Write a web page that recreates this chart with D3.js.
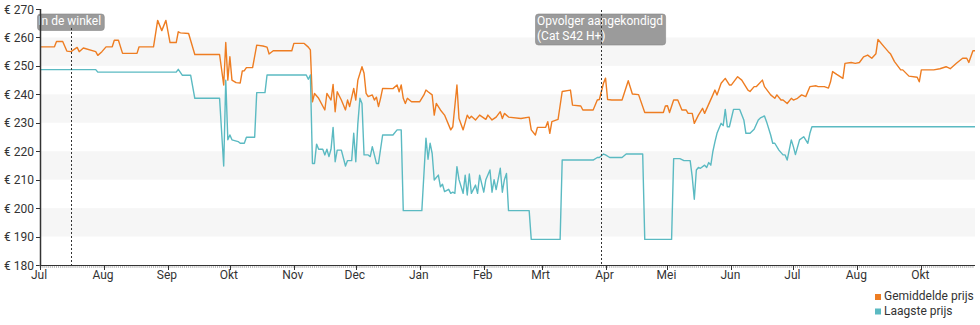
<!DOCTYPE html>
<html><head><meta charset="utf-8">
<script src="https://cdn.jsdelivr.net/npm/d3@7"></script>
<style>html,body{margin:0;padding:0;background:#fff}svg{display:block;font-family:Roboto,"Noto Sans",sans-serif}</style>
</head><body><svg id="c" width="980" height="325"></svg>
<script>
const yTicks = [180,190,200,210,220,230,240,250,260,270];
const bands = [[190,200],[210,220],[230,240],[250,260]];
const monthTicks = ["2020-07-01","2020-08-01","2020-09-01","2020-10-01","2020-11-01","2020-12-01","2021-01-01","2021-02-01","2021-03-01","2021-04-01","2021-05-01","2021-06-01","2021-07-01","2021-08-01","2021-09-01"];
const monthLabels = ["Jul","Aug","Sep","Okt","Nov","Dec","Jan","Feb","Mrt","Apr","Mei","Jun","Jul","Aug","Okt"];
const events = [["2020-07-16",["In de winkel"]],["2021-03-30",["Opvolger aangekondigd","(Cat S42 H+)"]]];
const seriesNames = ["Gemiddelde prijs","Laagste prijs"];
const avgPrice = [["2020-07-01",256.7],["2020-07-08",256.7],["2020-07-09",258.6],["2020-07-12",258.6],["2020-07-14",255.2],["2020-07-16",255],["2020-07-19",256.5],["2020-07-20",255],["2020-07-22",256.3],["2020-07-28",255],["2020-07-29",253.7],["2020-07-31",255],["2020-08-02",256.7],["2020-08-05",256.7],["2020-08-06",259],["2020-08-08",259],["2020-08-10",254.4],["2020-08-17",254.4],["2020-08-18",256.7],["2020-08-25",256.7],["2020-08-27",266],["2020-08-29",262.4],["2020-08-31",266],["2020-09-02",258.2],["2020-09-05",258.2],["2020-09-06",262],["2020-09-07",261.6],["2020-09-11",261.4],["2020-09-14",254],["2020-09-26",254],["2020-09-28",243.3],["2020-09-29",258.2],["2020-09-30",245],["2020-10-01",253.2],["2020-10-02",245],["2020-10-04",244.1],["2020-10-06",244],["2020-10-07",248.2],["2020-10-08",248.3],["2020-10-09",249.4],["2020-10-12",249.4],["2020-10-14",257.3],["2020-10-17",257],["2020-10-19",256.6],["2020-10-20",254.2],["2020-10-22",255.3],["2020-10-31",255.3],["2020-11-01",257.9],["2020-11-06",257.9],["2020-11-08",256.6],["2020-11-09",255.6],["2020-11-10",237.4],["2020-11-11",240.3],["2020-11-13",238.6],["2020-11-16",234.5],["2020-11-17",240.3],["2020-11-19",238],["2020-11-20",243.5],["2020-11-21",233.9],["2020-11-22",240.9],["2020-11-24",238],["2020-11-26",234.5],["2020-11-27",238],["2020-11-28",235.7],["2020-11-30",242.1],["2020-12-01",238],["2020-12-02",245],["2020-12-04",249.7],["2020-12-05",247.4],["2020-12-06",240.3],["2020-12-07",239.2],["2020-12-09",239.8],["2020-12-10",238],["2020-12-11",239],["2020-12-12",235.7],["2020-12-13",238.6],["2020-12-14",242.1],["2020-12-19",242],["2020-12-21",243.3],["2020-12-22",240.9],["2020-12-23",243.3],["2020-12-24",238.6],["2020-12-25",236.8],["2020-12-26",238.6],["2020-12-28",237.4],["2021-01-01",237.4],["2021-01-03",239.8],["2021-01-04",241.5],["2021-01-05",240.9],["2021-01-07",239.8],["2021-01-08",232.7],["2021-01-09",236.8],["2021-01-11",234.5],["2021-01-13",232.7],["2021-01-16",227.5],["2021-01-17",228.6],["2021-01-19",243.3],["2021-01-20",231.5],["2021-01-22",227.5],["2021-01-24",232.7],["2021-01-25",231.5],["2021-01-26",232.3],["2021-01-28",231],["2021-01-30",232.7],["2021-02-02",231.2],["2021-02-03",232.7],["2021-02-05",231],["2021-02-07",232],["2021-02-09",233.9],["2021-02-10",231.5],["2021-02-11",233.3],["2021-02-13",232],["2021-02-19",231.5],["2021-02-23",232],["2021-02-24",227.5],["2021-02-26",225.7],["2021-02-27",228.4],["2021-03-03",228.4],["2021-03-04",230.4],["2021-03-05",226.3],["2021-03-06",230.4],["2021-03-09",231.2],["2021-03-11",241],["2021-03-15",241.5],["2021-03-16",236.2],["2021-03-20",235.9],["2021-03-21",234.5],["2021-03-26",234.5],["2021-03-28",238],["2021-03-29",238.2],["2021-03-31",243.9],["2021-04-01",245.7],["2021-04-02",238.2],["2021-04-04",238],["2021-04-09",238],["2021-04-12",244.8],["2021-04-14",240.1],["2021-04-17",239.9],["2021-04-20",233.6],["2021-04-29",233.6],["2021-04-30",235.9],["2021-05-01",236],["2021-05-02",233.6],["2021-05-04",238],["2021-05-06",238],["2021-05-08",234.5],["2021-05-10",234.5],["2021-05-11",233.3],["2021-05-13",233.3],["2021-05-14",229.8],["2021-05-16",232.7],["2021-05-18",235.1],["2021-05-19",233.3],["2021-05-23",239.8],["2021-05-24",241.5],["2021-05-25",239.8],["2021-05-27",243.9],["2021-05-29",245.6],["2021-05-30",244.5],["2021-05-31",243.3],["2021-06-01",243.3],["2021-06-04",246.2],["2021-06-06",245],["2021-06-09",241.5],["2021-06-10",241],["2021-06-12",242.7],["2021-06-13",242.7],["2021-06-16",245],["2021-06-17",242.7],["2021-06-20",239.8],["2021-06-22",238.6],["2021-06-23",239.8],["2021-06-25",238],["2021-06-26",238],["2021-06-28",236.8],["2021-06-30",238.6],["2021-07-01",238],["2021-07-03",238.6],["2021-07-05",239.8],["2021-07-07",239.2],["2021-07-09",242.7],["2021-07-12",243],["2021-07-13",242.7],["2021-07-16",242.7],["2021-07-18",242.2],["2021-07-19",244.4],["2021-07-20",248],["2021-07-22",247],["2021-07-25",245.6],["2021-07-26",250.9],["2021-07-29",251.2],["2021-07-31",250.9],["2021-08-02",251.2],["2021-08-04",253.2],["2021-08-06",253.8],["2021-08-08",252.7],["2021-08-10",254.3],["2021-08-11",259.3],["2021-08-14",256.7],["2021-08-16",255],["2021-08-17",254.3],["2021-08-19",251.5],["2021-08-22",248.6],["2021-08-23",248.6],["2021-08-26",246.4],["2021-08-30",246],["2021-08-31",244.4],["2021-09-01",248.6],["2021-09-04",248.6],["2021-09-07",248.6],["2021-09-10",249],["2021-09-13",249.7],["2021-09-15",249],["2021-09-18",250.9],["2021-09-21",252.7],["2021-09-23",252.7],["2021-09-24",251.2],["2021-09-26",255.3],["2021-09-27",255.3]];
const lowPrice = [["2020-07-01",248.7],["2020-07-28",248.7],["2020-07-29",247.8],["2020-09-05",247.8],["2020-09-06",248.8],["2020-09-08",246.7],["2020-09-12",246.7],["2020-09-14",238.6],["2020-09-26",238.6],["2020-09-28",214.8],["2020-09-29",245],["2020-09-30",224],["2020-10-01",225.7],["2020-10-02",224],["2020-10-05",223.4],["2020-10-06",222.8],["2020-10-08",222.8],["2020-10-09",224.9],["2020-10-13",224.9],["2020-10-14",240.6],["2020-10-18",240.6],["2020-10-19",246.8],["2020-11-07",246.8],["2020-11-08",245.3],["2020-11-09",246.8],["2020-11-10",215.7],["2020-11-11",215.7],["2020-11-12",222.5],["2020-11-13",220.7],["2020-11-15",220.7],["2020-11-16",218.7],["2020-11-17",220.7],["2020-11-18",218.1],["2020-11-19",220.7],["2020-11-20",228.4],["2020-11-21",216.3],["2020-11-22",220.4],["2020-11-24",220.4],["2020-11-26",214.8],["2020-11-27",216.7],["2020-11-29",216.7],["2020-11-30",226.3],["2020-12-01",216.3],["2020-12-02",229.8],["2020-12-03",238.6],["2020-12-04",236.8],["2020-12-05",218.7],["2020-12-07",218.7],["2020-12-08",218.1],["2020-12-09",221.6],["2020-12-10",218.7],["2020-12-11",215.7],["2020-12-12",215.7],["2020-12-14",225.7],["2020-12-19",225.7],["2020-12-21",227.5],["2020-12-23",227.5],["2020-12-24",199.1],["2021-01-02",199.1],["2021-01-04",224.6],["2021-01-05",217.2],["2021-01-06",222.8],["2021-01-07",219.2],["2021-01-08",209.9],["2021-01-10",211.6],["2021-01-11",207.5],["2021-01-12",208.4],["2021-01-13",205.8],["2021-01-15",206.6],["2021-01-16",205.2],["2021-01-17",205.6],["2021-01-18",205.2],["2021-01-19",214.6],["2021-01-20",210],["2021-01-22",205.2],["2021-01-23",211.6],["2021-01-24",204.6],["2021-01-25",212],["2021-01-26",205.2],["2021-01-28",208.1],["2021-01-29",205.2],["2021-01-30",211.6],["2021-02-01",205.6],["2021-02-02",210],["2021-02-04",213.4],["2021-02-05",205.6],["2021-02-06",210],["2021-02-07",206.5],["2021-02-09",214],["2021-02-10",205.6],["2021-02-11",210],["2021-02-12",212.2],["2021-02-13",199.1],["2021-02-23",199.1],["2021-02-24",189],["2021-03-10",189],["2021-03-11",216.9],["2021-03-26",216.9],["2021-03-28",217.8],["2021-03-29",217.8],["2021-03-31",219],["2021-04-01",218.7],["2021-04-03",217.8],["2021-04-09",217.8],["2021-04-11",219],["2021-04-19",219],["2021-04-20",189],["2021-05-03",189],["2021-05-04",217.4],["2021-05-07",217.4],["2021-05-09",216.7],["2021-05-12",216.7],["2021-05-13",211],["2021-05-14",203.1],["2021-05-15",213.4],["2021-05-16",214.3],["2021-05-17",214],["2021-05-19",215.1],["2021-05-20",214.3],["2021-05-21",216],["2021-05-22",215.1],["2021-05-23",219.9],["2021-05-24",223.3],["2021-05-25",226.3],["2021-05-27",229.8],["2021-05-28",229],["2021-05-29",234.7],["2021-05-30",228.6],["2021-05-31",228.6],["2021-06-02",234.7],["2021-06-05",234.7],["2021-06-07",231],["2021-06-08",226.3],["2021-06-10",226.3],["2021-06-12",227.7],["2021-06-14",231],["2021-06-15",231.7],["2021-06-17",232.4],["2021-06-18",230.4],["2021-06-20",225.7],["2021-06-21",222.8],["2021-06-22",222.8],["2021-06-24",220.4],["2021-06-26",218.7],["2021-06-27",218.7],["2021-06-28",216.9],["2021-06-30",224],["2021-07-01",221.6],["2021-07-02",218.8],["2021-07-04",224],["2021-07-06",225.1],["2021-07-08",222.8],["2021-07-09",226.3],["2021-07-10",228.6],["2021-09-27",228.6]];
const colors = ["#ee7d22","#5bbac2"];

const parse = d3.timeParse("%Y-%m-%d");
const svg = d3.select("#c");
const L = 40, R = 975, T = 9, B = 265;
const x = d3.scaleTime().domain([parse("2020-07-01"), parse("2021-09-27")]).range([L, R]);
const y = d3.scaleLinear().domain([180, 270]).range([B, T]);

// bands
svg.append("g").selectAll("rect").data(bands).join("rect")
  .attr("x", L).attr("width", R - L)
  .attr("y", d => y(d[1])).attr("height", d => y(d[0]) - y(d[1]))
  .attr("fill", "#f6f6f6");

// lines
const line = d3.line().x(d => x(parse(d[0]))).y(d => y(d[1]));
[avgPrice, lowPrice].forEach((s, i) => {
  svg.append("path").datum(s).attr("d", line).attr("fill", "none")
    .attr("stroke", colors[i]).attr("stroke-width", 1.4).attr("stroke-linejoin", "round");
});

// event lines & labels
events.forEach((ev, i) => {
  const ex = Math.round(x(parse(ev[0]))) + 0.5;
  const lines = ev[1];
  const g = svg.append("g");
  const bx = ex - (i === 0 ? 34 : 66);
  const box = g.append("rect").attr("x", bx).attr("y", 14).attr("rx", 3).attr("ry", 3)
    .attr("fill", "#9b9b9b").attr("stroke", "#888").attr("stroke-width", 0.6);
  const txt = g.selectAll("text").data(lines).join("text")
    .attr("x", bx + (i === 0 ? 0.8 : 1.5)).attr("y", (d, j) => 25 + j * 14.5)
    .attr("fill", "#fff").attr("font-size", 12).text(d => d);
  let w = 0; txt.each(function(){ w = Math.max(w, this.getComputedTextLength()); });
  box.attr("width", w + 4).attr("height", lines.length * 14.5 + 2);
  svg.append("line").attr("x1", ex).attr("x2", ex).attr("y1", i === 0 ? 28 : 10).attr("y2", B)
    .attr("stroke", "#333").attr("stroke-width", 1).attr("stroke-dasharray", "2,2");
});

// y axis
const ya = svg.append("g");
ya.append("line").attr("x1", L + 0.5).attr("x2", L + 0.5).attr("y1", T).attr("y2", B).attr("stroke", "#333").attr("stroke-width", 1.5);
ya.selectAll("line.t").data(yTicks).join("line").attr("class", "t")
  .attr("x1", L - 4).attr("x2", L).attr("y1", d => Math.round(y(d)) + 0.5).attr("y2", d => Math.round(y(d)) + 0.5)
  .attr("stroke", "#333");
ya.selectAll("text").data(yTicks).join("text")
  .attr("x", L - 6).attr("y", d => y(d) + 4.5).attr("text-anchor", "end")
  .attr("font-size", 12).attr("fill", "#333").text(d => "€ " + d);

// x axis
const xa = svg.append("g");
xa.selectAll("line.m").data(d3.timeDay.range(x.domain()[0], x.domain()[1])).join("line").attr("class", "m")
  .attr("x1", d => x(d)).attr("x2", d => x(d)).attr("y1", B).attr("y2", B + 3)
  .attr("stroke", "#aaa").attr("stroke-width", 0.8);
xa.append("line").attr("x1", L).attr("x2", R).attr("y1", B + 0.5).attr("y2", B + 0.5).attr("stroke", "#333");
xa.selectAll("line.t").data(monthTicks).join("line").attr("class", "t")
  .attr("x1", d => Math.round(x(parse(d))) + 0.5).attr("x2", d => Math.round(x(parse(d))) + 0.5)
  .attr("y1", B).attr("y2", B + 5).attr("stroke", "#333");
xa.selectAll("text").data(monthTicks).join("text")
  .attr("x", d => x(parse(d)) - 1).attr("y", B + 14).attr("text-anchor", "middle")
  .attr("font-size", 12).attr("fill", "#333").text((d, i) => monthLabels[i]);

// legend
const lg = svg.append("g");
seriesNames.forEach((n, i) => {
  lg.append("rect").attr("x", 875).attr("y", 294 + i * 14.5).attr("width", 6).attr("height", 6).attr("fill", colors[i]);
  lg.append("text").attr("x", 884).attr("y", 300 + i * 14.5).attr("font-size", 12).attr("fill", "#333").text(n);
});
</script></body></html>
